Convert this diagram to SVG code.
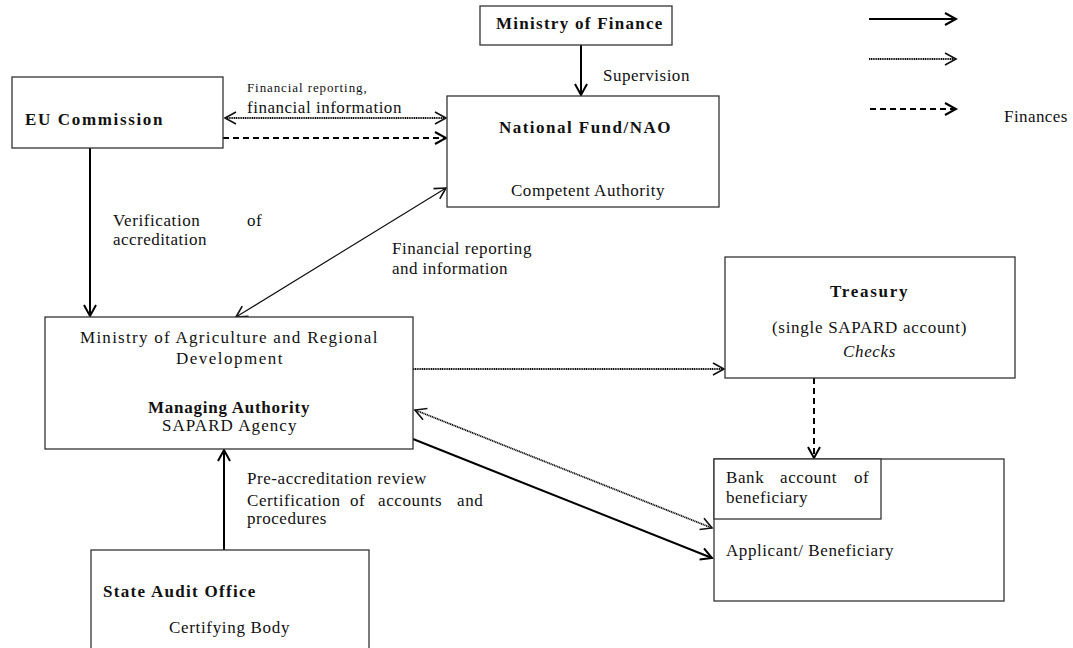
<svg xmlns="http://www.w3.org/2000/svg" width="1073" height="648" viewBox="0 0 1073 648">
<style>
.box{fill:#fff;stroke:#333;stroke-width:1.3}
.t{font-family:"Liberation Serif","Times New Roman",serif;font-size:17px;fill:#111;letter-spacing:0.6px}
.b{font-weight:bold}
.i{font-style:italic}
.solid{fill:none;stroke:#000;stroke-width:2}
.thin{fill:none;stroke:#111;stroke-width:1.2}
.dot{fill:none;stroke:#111;stroke-width:1.8;stroke-dasharray:1.2 0.6}
.dash{fill:none;stroke:#000;stroke-width:2;stroke-dasharray:6 4}
</style>
<defs>
<marker id="ah" markerUnits="userSpaceOnUse" markerWidth="14" markerHeight="16" refX="11" refY="7" orient="auto-start-reverse" overflow="visible">
<path d="M0,1 L11,7 L0,13" fill="none" stroke="#000" stroke-width="2" stroke-dasharray="none"/>
</marker>
<marker id="ahl" markerUnits="userSpaceOnUse" markerWidth="14" markerHeight="16" refX="11" refY="7" orient="auto-start-reverse" overflow="visible">
<path d="M0,1 L11,7 L0,13" fill="none" stroke="#111" stroke-width="1.6" stroke-dasharray="none"/>
</marker>
</defs>

<g id="connectors">
<line class="solid" x1="581" y1="45" x2="581" y2="95" marker-end="url(#ah)"/>
<line class="dot" x1="225" y1="118" x2="446" y2="118" marker-start="url(#ahl)" marker-end="url(#ahl)"/>
<line class="dash" x1="223" y1="138" x2="446" y2="138" marker-end="url(#ah)"/>
<line class="solid" x1="90" y1="148" x2="90" y2="316" marker-end="url(#ah)"/>
<line class="thin" x1="446" y1="188" x2="236" y2="317" marker-start="url(#ahl)" marker-end="url(#ahl)"/>
<line class="dot" x1="413" y1="369" x2="724" y2="369" marker-end="url(#ahl)"/>
<line class="dash" x1="814" y1="378" x2="814" y2="458" marker-end="url(#ah)"/>
<line class="dot" x1="415" y1="410" x2="712" y2="528" marker-start="url(#ahl)" marker-end="url(#ahl)"/>
<line class="solid" x1="413" y1="439" x2="712" y2="558" marker-end="url(#ah)"/>
<line class="solid" x1="224" y1="550" x2="224" y2="450" marker-end="url(#ah)"/>
</g>

<g id="legend">
<line class="solid" x1="869" y1="19" x2="956" y2="19" marker-end="url(#ah)"/>
<line class="dot" x1="869" y1="59" x2="956" y2="59" marker-end="url(#ahl)"/>
<line class="dash" x1="870" y1="109" x2="956" y2="109" marker-end="url(#ah)"/>
<text class="t" x="1004" y="122" textLength="64">Finances</text>
</g>

<g id="labels">
<text class="t" x="247" y="92" style="font-size:13px;letter-spacing:0.3px" textLength="120">Financial reporting,</text>
<text class="t" x="247" y="113" textLength="155">financial information</text>
<text class="t" x="603" y="81" textLength="87">Supervision</text>
<text class="t" y="226"><tspan x="113">Verification</tspan><tspan x="247">of</tspan></text>
<text class="t" x="113" y="245" textLength="94">accreditation</text>
<text class="t" x="392" y="254" textLength="140">Financial reporting</text>
<text class="t" x="392" y="274" textLength="116">and information</text>
<text class="t" x="247" y="484" textLength="180">Pre-accreditation review</text>
<text class="t" y="506"><tspan x="247">Certification</tspan><tspan x="350">of</tspan><tspan x="378">accounts</tspan><tspan x="457">and</tspan></text>
<text class="t" x="247" y="524" textLength="80">procedures</text>
</g>

<g id="eu-commission">
<rect class="box" x="12" y="77" width="211" height="71"/>
<text class="t b" x="25" y="125" textLength="138">EU Commission</text>
</g>

<g id="ministry-of-finance">
<rect class="box" x="480" y="6" width="192" height="39"/>
<text class="t b" x="496" y="29" textLength="167">Ministry of Finance</text>
</g>

<g id="national-fund">
<rect class="box" x="447" y="96" width="272" height="111"/>
<text class="t b" x="499" y="133" textLength="172">National Fund/NAO</text>
<text class="t" x="511" y="196" textLength="154">Competent Authority</text>
</g>

<g id="ministry-agriculture">
<rect class="box" x="45" y="317" width="368" height="132"/>
<text class="t" x="80" y="343" textLength="298">Ministry of Agriculture and Regional</text>
<text class="t" x="176" y="364" textLength="107">Development</text>
<text class="t b" x="148" y="413" textLength="162">Managing Authority</text>
<text class="t" x="162" y="431" textLength="135">SAPARD Agency</text>
</g>

<g id="treasury">
<rect class="box" x="725" y="257" width="290" height="121"/>
<text class="t b" x="830" y="297" textLength="78">Treasury</text>
<text class="t" x="772" y="333" textLength="195">(single SAPARD account)</text>
<text class="t i" x="843" y="357" textLength="53">Checks</text>
</g>

<g id="applicant">
<rect class="box" x="714" y="459" width="290" height="142"/>
<text class="t" x="726" y="556" textLength="168">Applicant/ Beneficiary</text>
</g>

<g id="bank-account">
<rect class="box" x="714" y="459" width="167" height="60"/>
<text class="t" y="483"><tspan x="726">Bank</tspan><tspan x="780">account</tspan><tspan x="854">of</tspan></text>
<text class="t" x="726" y="503" textLength="82">beneficiary</text>
</g>

<g id="state-audit-office">
<rect class="box" x="91" y="550" width="278" height="110"/>
<text class="t b" x="103" y="597" textLength="153">State Audit Office</text>
<text class="t" x="169" y="633" textLength="121">Certifying Body</text>
</g>
</svg>
